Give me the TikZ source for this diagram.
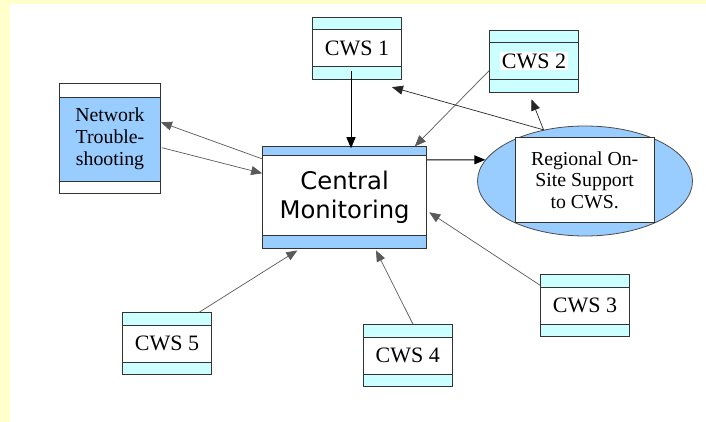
\documentclass[tikz,border=0pt]{standalone}
\usepackage{fontspec}
\setmainfont{Liberation Serif}
\newfontfamily\centralfont{DejaVu Sans}
\usetikzlibrary{arrows.meta,shapes.geometric}
\definecolor{bgyellow}{HTML}{FFFFCC}
\definecolor{cwscyan}{HTML}{CCFFFF}
\definecolor{monblue}{HTML}{99CCFF}
\begin{document}
\begin{tikzpicture}[x=1pt, y=-1pt,
  box/.style={draw=black!80, line width=0.9pt, inner sep=0pt, align=center},
  banded/.style n args={3}{path picture={
      \fill[#1] (path picture bounding box.north west) rectangle ([yshift=-#2]path picture bounding box.north east);
      \fill[#1] (path picture bounding box.south west) rectangle ([yshift=#3]path picture bounding box.south east);
      \draw[black!80, line width=0.9pt] ([yshift=-#2]path picture bounding box.north west) -- ([yshift=-#2]path picture bounding box.north east);
      \draw[black!80, line width=0.9pt] ([yshift=#3]path picture bounding box.south west) -- ([yshift=#3]path picture bounding box.south east);}},
  cwsbox/.style={box, fill=white, banded={cwscyan}{12.5pt}{12.5pt}, minimum width=89pt, minimum height=62pt,
    font=\fontsize{22}{24}\selectfont},
  link/.style={draw=black!65, line width=0.7pt, -{Triangle[length=11pt,width=9pt]}},
  strong/.style={draw=black, line width=1pt, -{Triangle[length=11pt,width=9pt]}}]
  % Page background
  \fill[bgyellow] (0,0) rectangle (706,422);
  \fill[white] (10,4) rectangle (706,422);
  \useasboundingbox (0,0) rectangle (706,422);
  % Central monitoring
  \node[box, fill=white, banded={monblue}{8.3pt}{12.6pt}, minimum width=164pt, minimum height=101.6pt,
    font=\centralfont\fontsize{24.3}{29}\selectfont] (central) at (344.6,197.5) {Central\\Monitoring};
  % Network troubleshooting
  \node[box, fill=monblue, banded={white}{13.3pt}{12.7pt}, minimum width=101pt, minimum height=110pt,
    font=\fontsize{19.8}{21.7}\selectfont] (net) at (110,138.7) {Network\\Trouble-\\shooting};
  % Regional support
  \node[ellipse, draw=black!70, line width=0.8pt, fill=monblue, minimum width=215pt, minimum height=110pt] (reg) at (585,181) {};
  \node[box, fill=white, minimum width=138.7pt, minimum height=85pt,
    font=\fontsize{19.8}{21.5}\selectfont] (regbox) at (584.7,180.2) {Regional On-\\Site Support\\to CWS.};
  % Workstations
  \node[cwsbox] (cws1) at (357,48) {CWS 1};
  \node[cwsbox, fill=cwscyan] (cws2) at (534,61) {\setlength\fboxsep{2pt}\colorbox{white}{CWS 2}};
  \node[cwsbox] (cws3) at (585,305.7) {CWS 3};
  \node[cwsbox] (cws4) at (407.7,355.7) {CWS 4};
  \node[cwsbox] (cws5) at (167,343.8) {CWS 5};
  % Connectors
  \draw[strong] ([xshift=-6pt,yshift=8pt]cws1.south) -- ([xshift=6.4pt,yshift=-2pt]central.north);
  \draw[link] ([yshift=-9.7pt]cws2.west) -- ([xshift=-12.2pt]central.north east);
  \draw[link, draw=black!85] (reg.129) -- ([xshift=-10pt,yshift=-7.7pt]cws1.south east);
  \draw[link, draw=black!85] (reg.129) -- ([xshift=-2.5pt,yshift=-7pt]cws2.south);
  \draw[strong] ([yshift=37.5pt]central.east) -- (reg.168);
  \draw[link] ([yshift=-12.6pt]central.north west) -- ([yshift=16.4pt]net.east);
  \draw[link] ([xshift=1pt,yshift=-9pt]net.east) -- ([yshift=24.2pt]central.west);
  \draw[link] ([yshift=-11pt]cws3.north west) -- ([xshift=2.2pt,yshift=-14.8pt]central.east);
  \draw[link] ([xshift=5.3pt]cws4.north) -- ([xshift=31.4pt,yshift=-1.7pt]central.south);
  \draw[link] ([xshift=32pt]cws5.north) -- ([xshift=-47.3pt,yshift=-1.7pt]central.south);
\end{tikzpicture}
\end{document}
